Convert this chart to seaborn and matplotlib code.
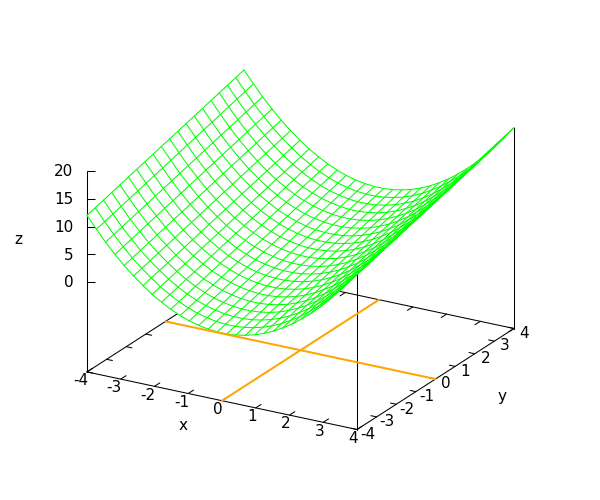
import numpy as np
import pandas as pd
import matplotlib
matplotlib.use('Agg')
import matplotlib.pyplot as plt
import seaborn as sns

# ── Data ──────────────────────────────────────────────────────────────────────
x_samples = [-4.00, -3.72, -3.45, -3.17, -2.90, -2.62, -2.34, -2.07, -1.79, -1.52,
             -1.24, -0.97, -0.69, -0.41, -0.14, 0.14, 0.41, 0.69, 0.97, 1.24,
             1.52, 1.79, 2.07, 2.34, 2.62, 2.90, 3.17, 3.45, 3.72, 4.00]
y_samples = [-4.00, -3.58, -3.16, -2.74, -2.32, -1.89, -1.47, -1.05, -0.63, -0.21,
             0.21, 0.63, 1.05, 1.47, 1.89, 2.32, 2.74, 3.16, 3.58, 4.00]
# height of the sheet along x at y=0, and the rise it gets along y
z_along_x = [16.00, 13.87, 11.89, 10.06, 8.39, 6.87, 5.50, 4.28, 3.22, 2.30,
             1.54, 0.93, 0.48, 0.17, 0.02, 0.02, 0.17, 0.48, 0.93, 1.54,
             2.30, 3.22, 4.28, 5.50, 6.87, 8.39, 10.06, 11.89, 13.87, 16.00]
z_rise_y = [-4.00, -3.58, -3.16, -2.74, -2.32, -1.89, -1.47, -1.05, -0.63, -0.21,
            0.21, 0.63, 1.05, 1.47, 1.89, 2.32, 2.74, 3.16, 3.58, 4.00]

x_ticks = [-4, -3, -2, -1, 0, 1, 2, 3, 4]
y_ticks = [-4, -3, -2, -1, 0, 1, 2, 3, 4]
z_ticks = [0, 5, 10, 15, 20]
x_range = [-4, 4]
y_range = [-4, 4]
z_top = 20
z_base = -16.2

# ── Setup ─────────────────────────────────────────────────────────────────────
sns.set_theme(style="white")
plt.rcParams['font.family'] = ['DejaVu Sans']

fig = plt.figure(figsize=(6, 5), dpi=100)
ax = fig.add_axes([0, 0, 1, 1])


# gnuplot style oblique view (60, 30), result is in image pixels
def project(x, y, z):
    x, y, z = np.asarray(x, float), np.asarray(y, float), np.asarray(z, float)
    px = 87 + (x + 4) * 33.75 + (y + 4) * 19.625
    py = 282 + (x + 4) * 7.2 - (y + 4) * 12.625 - z * 5.55
    return px, py


def draw(x, y, z, color, lw, zorder):
    px, py = project(x, y, z)
    frame = pd.DataFrame({'px': px, 'py': py})
    sns.lineplot(data=frame, x='px', y='py', color=color, linewidth=lw, sort=False,
                 estimator=None, errorbar=None, legend=False, zorder=zorder, ax=ax)


# ── Box and ticks ─────────────────────────────────────────────────────────────
black = 'black'
x0, x1 = x_range
y0, y1 = y_range
draw([x0, x1, x1, x0, x0], [y0, y0, y1, y1, y0], [z_base] * 5, black, 0.75, 1)
draw([x0, x0], [y0, y0], [z_base, z_top], black, 0.75, 1)
draw([x1, x1], [y0, y0], [z_base, z_top], black, 0.75, 1)
draw([x1, x1], [y1, y1], [z_base, z_top], black, 0.75, 1)

for t in x_ticks:
    draw([t, t], [y0, y0 + 0.27], [z_base, z_base], black, 0.75, 1)
    draw([t, t], [y1, y1 - 0.27], [z_base, z_base], black, 0.75, 1)
for t in y_ticks:
    draw([x1, x1 - 0.17], [t, t], [z_base, z_base], black, 0.75, 1)
    draw([x0, x0 + 0.17], [t, t], [z_base, z_base], black, 0.75, 1)
for t in z_ticks:
    px, py = project(x0, y0, t)
    ax.hlines(py, px, px + 8, color=black, linewidth=0.75, zorder=1)

# ── Surface ───────────────────────────────────────────────────────────────────
z_grid = np.add.outer(z_rise_y, z_along_x)
X, Y = np.meshgrid(x_samples, y_samples)
PX, PY = project(X, Y, z_grid)

# white cells hide whatever lies behind the sheet (hidden3d)
for j in range(len(y_samples) - 1):
    for i in range(len(x_samples) - 1):
        ax.fill([PX[j, i], PX[j, i + 1], PX[j + 1, i + 1], PX[j + 1, i]],
                [PY[j, i], PY[j, i + 1], PY[j + 1, i + 1], PY[j + 1, i]],
                color='white', linewidth=0.3, zorder=2)

green = '#00ff00'
for j in range(len(y_samples)):
    draw(X[j, :], Y[j, :], z_grid[j, :], green, 0.75, 3)
for i in range(len(x_samples)):
    draw(X[:, i], Y[:, i], z_grid[:, i], green, 0.75, 3)

# ── Orange guides on the base ─────────────────────────────────────────────────
orange = '#ffa500'
draw([0, 0], [y0, y1], [z_base, z_base], orange, 1.45, 4)
draw([x0, x1], [0, 0], [z_base, z_base], orange, 1.45, 4)

ax.set_xlim(0, 600)
ax.set_ylim(500, 0)
ax.axis('off')

# ── Labels ────────────────────────────────────────────────────────────────────
fs = 11
for t in x_ticks:
    px, py = project(t, y0, z_base)
    shift = -6.5 if t < 0 else -4
    ax.text(px + shift, py + 8.8, str(t), ha='center', va='center', fontsize=fs, color='black')
for t in y_ticks:
    px, py = project(x1, t, z_base)
    ax.text(px + 10.5, py + 4.8, str(t), ha='center', va='center', fontsize=fs, color='black')
for t in z_ticks:
    px, py = project(x0, y0, t)
    ax.text(px - 13.5, py + 0.8, str(t), ha='right', va='center', fontsize=fs, color='black')

ax.text(183, 426, 'x', ha='center', va='center', fontsize=fs, color='black')
ax.text(502, 396, 'y', ha='center', va='center', fontsize=fs, color='black')
ax.text(18, 239, 'z', ha='center', va='center', fontsize=fs, color='black')

fig.savefig('out.png', dpi=100)
